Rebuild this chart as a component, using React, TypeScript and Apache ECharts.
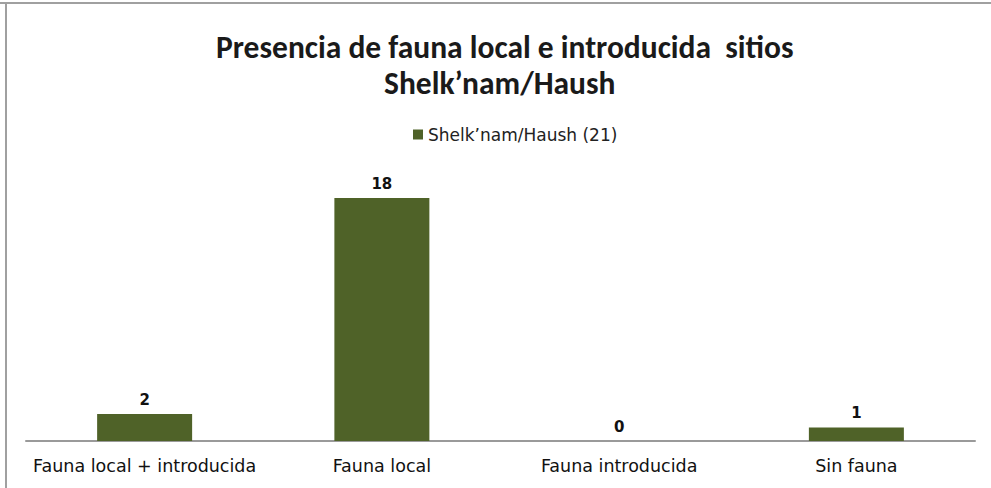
import React, { useEffect, useRef } from "react";
import * as echarts from "echarts";

const categories = ["Fauna local + introducida", "Fauna local", "Fauna introducida", "Sin fauna"];
const seriesName = "Shelk’nam/Haush (21)";
const values = [2, 18, 0, 1];
const titleLines = ["Presencia de fauna local e introducida  sitios", "Shelk’nam/Haush"];

const TITLE_FONT = "Carlito, 'Open Sans', 'Noto Sans', sans-serif";
const FONT = "'DejaVu Sans', 'Noto Sans', sans-serif";

export default function App() {
  const ref = useRef<HTMLDivElement>(null);
  useEffect(() => {
    document.body.style.margin = "0";
    const chart = echarts.init(ref.current!, null, { renderer: "svg" });
    const titleStyle = {
      fontFamily: TITLE_FONT,
      fontSize: 31.5,
      fontWeight: "bold",
      color: "#1a1a1a",
      lineHeight: 37,
    };
    chart.setOption({
      animation: false,
      backgroundColor: "#ffffff",
      title: [
        { text: titleLines[0], left: 216, top: 28, padding: 0, textStyle: titleStyle },
        { text: titleLines[1], left: 384, top: 64, padding: 0, textStyle: titleStyle },
      ],
      legend: {
        top: 121,
        left: 408,
        itemWidth: 10,
        itemHeight: 10,
        itemGap: 6,
        textStyle: { fontFamily: FONT, fontSize: 17, color: "#222" },
        data: [{ name: seriesName, icon: "rect" }],
      },
      grid: { left: 26, right: 16, top: 171, bottom: 47, containLabel: false },
      xAxis: {
        type: "category",
        data: categories,
        axisLine: { lineStyle: { color: "#9a9a9a", width: 2 } },
        axisTick: { show: false },
        axisLabel: {
          interval: 0,
          fontFamily: FONT,
          fontSize: 17.5,
          color: "#111",
          margin: 16,
        },
      },
      yAxis: {
        type: "value",
        min: 0,
        max: 20,
        show: false,
        splitLine: { show: false },
      },
      series: [
        {
          name: seriesName,
          type: "bar",
          data: values,
          barWidth: 95,
          itemStyle: { color: "#4f6228" },
          label: {
            show: true,
            position: "top",
            distance: 7,
            fontFamily: FONT,
            fontSize: 15,
            fontWeight: "bold",
            color: "#111",
          },
        },
      ],
      graphic: [
        { type: "line", shape: { x1: 0, y1: 3, x2: 991, y2: 3 }, style: { stroke: "#a0a0a0", lineWidth: 2 } },
        { type: "line", shape: { x1: 6, y1: 3, x2: 6, y2: 488 }, style: { stroke: "#a0a0a0", lineWidth: 2 } },
      ],
    });
    return () => chart.dispose();
  }, []);
  return <div ref={ref} style={{ width: 991, height: 488 }} />;
}
